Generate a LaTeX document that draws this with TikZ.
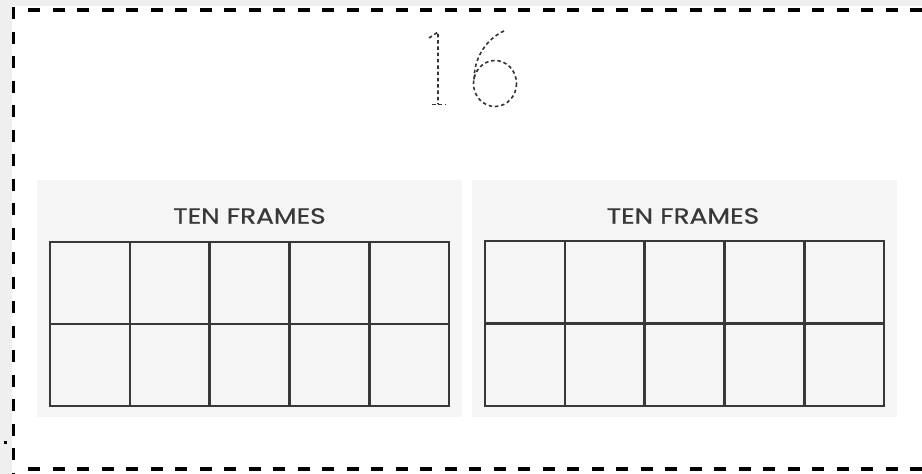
\documentclass[tikz,border=0pt]{standalone}
\usepackage{fontspec}
\newfontfamily\headfont[FakeBold=0.6]{Poppins}
\definecolor{outergray}{HTML}{EFEFEF}
\definecolor{panelgray}{HTML}{F5F5F5}
\definecolor{gridcol}{HTML}{383838}
\definecolor{digitcol}{HTML}{333333}
\begin{document}
\begin{tikzpicture}[x=1pt,y=-1pt,
  border/.style={line width=3.5pt, black, dash pattern=on 12pt off 12.5pt},
  gridline/.style={line width=2.6pt, gridcol},
  digit/.style={line width=1.6pt, digitcol, dash pattern=on 3.5pt off 2.8pt},
  headtext/.style={font=\headfont\fontsize{22}{22}\selectfont, text=gridcol, inner sep=0pt, xscale=1.2}]
\useasboundingbox (0,0) rectangle (922,474);
\fill[outergray] (0,0) rectangle (922,474);
\fill[white] (12,6) rectangle (922,474);
% dashed border
\draw[border] (13.5,7) -- (13.5,474);
\draw[border] (28,10) -- (922,10);
\draw[border] (28,469) -- (922,469);
\fill[black] (3.5,440.5) rectangle (7,444);
% traced digits 16
\draw[digit] (429,38) -- (438,32) -- (438,104);
\draw[digit] (432,104.5) -- (446,104.5);
\draw[digit] (495,83.5) ellipse [x radius=21.5, y radius=23];
\draw[digit] (504,31) .. controls (488,38) and (474,56) .. (474,80);
% panels
\fill[panelgray] (37,180) rectangle (462,417);
\fill[panelgray] (472,180) rectangle (897,417);
\node[headtext] (t1) at (249.5,216) {TEN FRAMES};
\node[headtext] (t2) at (683,216) {TEN FRAMES};
% grid 1
\draw[gridline] (50,242) rectangle (449,406);
\draw[gridline] (50,324) -- (449,324);
\foreach \i in {1,2,3,4} \draw[gridline] ({50+79.8*\i},242) -- ({50+79.8*\i},406);
% grid 2
\draw[gridline] (485,241) rectangle (884,406);
\draw[gridline] (485,323.5) -- (884,323.5);
\foreach \i in {1,2,3,4} \draw[gridline] ({485+79.8*\i},241) -- ({485+79.8*\i},406);
\end{tikzpicture}
\end{document}
